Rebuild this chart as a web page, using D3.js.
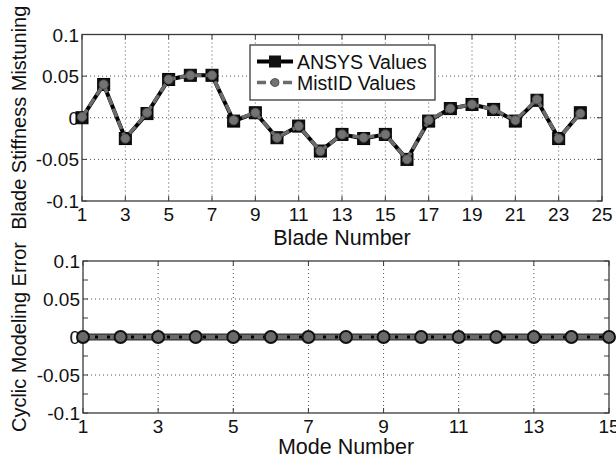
<!DOCTYPE html>
<html>
<head>
<meta charset="utf-8">
<script src="https://cdn.jsdelivr.net/npm/d3@7"></script>
<style>
  body { margin: 0; background: #fff; }
  svg text { font-family: 'Liberation Sans', Arial, sans-serif; fill: #111; }
</style>
</head>
<body>
<div id="d3-container"></div>
<script>
// blade mistuning (top panel)
const blades = [1, 2, 3, 4, 5, 6, 7, 8, 9, 10, 11, 12, 13, 14, 15, 16, 17, 18, 19, 20, 21, 22, 23, 24]
const ansysValues = [0, 0.04, -0.025, 0.005, 0.046, 0.051, 0.051, -0.004, 0.006, -0.024, -0.01, -0.04,
  -0.02, -0.025, -0.02, -0.05, -0.004, 0.011, 0.016, 0.01, -0.004, 0.021, -0.025, 0.006]
const mistIdValues = [0.001, 0.04, -0.025, 0.006, 0.046, 0.051, 0.051, -0.003, 0.006, -0.024, -0.01, -0.04,
  -0.02, -0.024, -0.02, -0.05, -0.003, 0.011, 0.016, 0.01, -0.003, 0.022, -0.025, 0.005]
const bladeTicks = [1, 3, 5, 7, 9, 11, 13, 15, 17, 19, 21, 23, 25]

// cyclic modeling error (bottom panel)
const modes = [1, 2, 3, 4, 5, 6, 7, 8, 9, 10, 11, 12, 13, 14, 15]
const modeErrors = [0, 0, 0, 0, 0, 0, 0, 0, 0, 0, 0, 0, 0, 0, 0]
const modeTicks = [1, 3, 5, 7, 9, 11, 13, 15]

const yLabelTicks = [-0.1, -0.05, 0, 0.05, 0.1]
const yMinorTicks = [-0.1, -0.075, -0.05, -0.025, 0, 0.025, 0.05, 0.075, 0.1]
const legendLabels = ['ANSYS Values', 'MistID Values']

const width = 616
const height = 458
const axisColor = '#3a3a3a'
const gridColor = '#555'
const grey = '#6b6b6b'

const svg = d3.select('#d3-container')
  .append('svg')
  .attr('width', width)
  .attr('height', height)

const fmt = d => (d === 0 ? '0' : String(+d.toFixed(2)))

function drawFrame(g, x, y, xTicks, yTicks, yGrid, yLabelValues, xLabel, yLabel, labelGap) {
  const [x0, x1] = x.range()
  const [y1, y0] = y.range()

  // grid
  g.append('g').selectAll('line')
    .data(xTicks.filter(t => t !== x.domain()[0] && t !== x.domain()[1]))
    .join('line')
    .attr('x1', d => x(d)).attr('x2', d => x(d))
    .attr('y1', y0).attr('y2', y1)
    .attr('stroke', gridColor).attr('stroke-width', 1).attr('stroke-dasharray', '1,3')
  g.append('g').selectAll('line')
    .data(yGrid)
    .join('line')
    .attr('x1', x0).attr('x2', x1)
    .attr('y1', d => y(d)).attr('y2', d => y(d))
    .attr('stroke', gridColor).attr('stroke-width', 1).attr('stroke-dasharray', '1,3')

  // inward ticks on all four sides
  const tickLen = 5
  const ticks = g.append('g').attr('stroke', axisColor).attr('stroke-width', 1)
  xTicks.forEach(t => {
    ticks.append('line').attr('x1', x(t)).attr('x2', x(t)).attr('y1', y1).attr('y2', y1 - tickLen)
    ticks.append('line').attr('x1', x(t)).attr('x2', x(t)).attr('y1', y0).attr('y2', y0 + tickLen)
  })
  yTicks.forEach(t => {
    ticks.append('line').attr('x1', x0).attr('x2', x0 + tickLen).attr('y1', y(t)).attr('y2', y(t))
    ticks.append('line').attr('x1', x1).attr('x2', x1 - tickLen).attr('y1', y(t)).attr('y2', y(t))
  })

  g.append('rect')
    .attr('x', x0).attr('y', y0)
    .attr('width', x1 - x0).attr('height', y1 - y0)
    .attr('fill', 'none').attr('stroke', axisColor).attr('stroke-width', 1.3)

  // tick labels
  g.append('g').selectAll('text')
    .data(xTicks)
    .join('text')
    .attr('x', d => x(d))
    .attr('y', y1 + 20)
    .attr('text-anchor', 'middle')
    .attr('font-size', 19)
    .text(d => d)
  g.append('g').selectAll('text')
    .data(yLabelValues)
    .join('text')
    .attr('x', x0 - 3)
    .attr('y', d => y(d) + 7)
    .attr('text-anchor', 'end')
    .attr('font-size', 19)
    .text(fmt)

  g.append('text')
    .attr('x', (x0 + x1) / 2)
    .attr('y', y1 + labelGap)
    .attr('text-anchor', 'middle')
    .attr('font-size', 21.5)
    .text(xLabel)
  g.append('text')
    .attr('transform', `translate(26, ${(y0 + y1) / 2}) rotate(-90)`)
    .attr('text-anchor', 'middle')
    .attr('font-size', 20)
    .text(yLabel)
}

// ---- top panel ----
const xTop = d3.scaleLinear().domain([1, 25]).range([82, 602])
const yTop = d3.scaleLinear().domain([-0.1, 0.1]).range([201, 34.5])
const topPanel = svg.append('g')
drawFrame(topPanel, xTop, yTop, bladeTicks, yLabelTicks, [-0.05, 0, 0.05], yLabelTicks,
  'Blade Number', 'Blade Stiffness Mistuning', 44)

const ansys = blades.map((b, i) => ({ x: b, y: ansysValues[i] }))
const mist = blades.map((b, i) => ({ x: b, y: mistIdValues[i] }))
const lineTop = d3.line().x(d => xTop(d.x)).y(d => yTop(d.y))

topPanel.append('path').datum(ansys)
  .attr('d', lineTop).attr('fill', 'none')
  .attr('stroke', '#000').attr('stroke-width', 4).attr('stroke-linejoin', 'round')
topPanel.append('g').selectAll('rect')
  .data(ansys)
  .join('rect')
  .attr('x', d => xTop(d.x) - 6).attr('y', d => yTop(d.y) - 6)
  .attr('width', 12).attr('height', 12)
  .attr('fill', '#111').attr('stroke', '#000')
topPanel.append('path').datum(mist)
  .attr('d', lineTop).attr('fill', 'none')
  .attr('stroke', grey).attr('stroke-width', 3.5).attr('stroke-dasharray', '9,4')
topPanel.append('g').selectAll('circle')
  .data(mist)
  .join('circle')
  .attr('cx', d => xTop(d.x)).attr('cy', d => yTop(d.y))
  .attr('r', 4.5)
  .attr('fill', '#737373').attr('stroke', '#555').attr('stroke-width', 1)

// legend
const legend = topPanel.append('g')
legend.append('rect')
  .attr('x', 250).attr('y', 45).attr('width', 185).attr('height', 55)
  .attr('fill', '#fff').attr('stroke', axisColor).attr('stroke-width', 1.3)
legendLabels.forEach((label, i) => {
  const ly = 61.5 + i * 21
  if (i === 0) {
    legend.append('line').attr('x1', 257).attr('x2', 293).attr('y1', ly).attr('y2', ly)
      .attr('stroke', '#000').attr('stroke-width', 4)
    legend.append('rect').attr('x', 269).attr('y', ly - 6).attr('width', 12).attr('height', 12)
      .attr('fill', '#111')
  } else {
    legend.append('line').attr('x1', 257).attr('x2', 293).attr('y1', ly).attr('y2', ly)
      .attr('stroke', grey).attr('stroke-width', 3.5).attr('stroke-dasharray', '9,4')
    legend.append('circle').attr('cx', 275).attr('cy', ly).attr('r', 4)
      .attr('fill', '#737373').attr('stroke', '#555')
  }
  legend.append('text')
    .attr('x', 297).attr('y', ly + 7)
    .attr('font-size', 19.5)
    .text(label)
})

// ---- bottom panel ----
const xBot = d3.scaleLinear().domain([1, 15]).range([83, 609])
const yBot = d3.scaleLinear().domain([-0.1, 0.1]).range([413, 261])
const bottomPanel = svg.append('g')
drawFrame(bottomPanel, xBot, yBot, modeTicks, yMinorTicks, [-0.05, 0, 0.05], yLabelTicks,
  'Mode Number', 'Cyclic Modeling Error', 41)

const errs = modes.map((m, i) => ({ x: m, y: modeErrors[i] }))
const lineBot = d3.line().x(d => xBot(d.x)).y(d => yBot(d.y))
bottomPanel.append('path').datum(errs)
  .attr('d', lineBot).attr('fill', 'none')
  .attr('stroke', '#333').attr('stroke-width', 7)
bottomPanel.append('path').datum(errs)
  .attr('d', lineBot).attr('fill', 'none')
  .attr('stroke', grey).attr('stroke-width', 4.5)
bottomPanel.append('path').datum(errs)
  .attr('d', lineBot).attr('fill', 'none')
  .attr('stroke', '#000').attr('stroke-width', 3).attr('stroke-dasharray', '3,9')
bottomPanel.append('g').selectAll('circle')
  .data(errs)
  .join('circle')
  .attr('cx', d => xBot(d.x)).attr('cy', d => yBot(d.y))
  .attr('r', 6)
  .attr('fill', '#6a6a6a').attr('stroke', '#111').attr('stroke-width', 2)
</script>
</body>
</html>
